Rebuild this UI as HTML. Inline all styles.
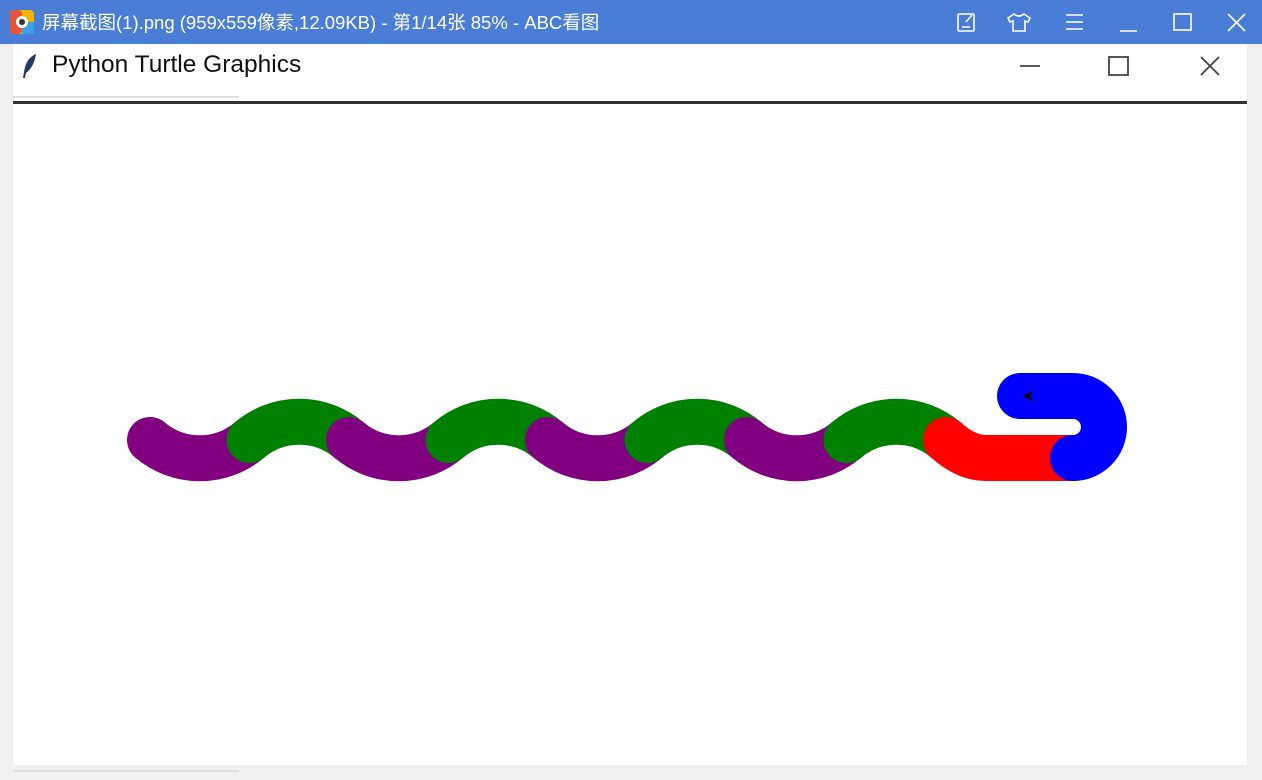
<!DOCTYPE html>
<html><head><meta charset="utf-8">
<style>
html,body{margin:0;padding:0;width:1262px;height:780px;overflow:hidden;background:#f0f0f0;font-family:"Liberation Sans","Noto Sans CJK SC",sans-serif;}
#topbar{position:absolute;left:0;top:0;width:1262px;height:44px;background:#4a7dd5;}
#toptitle{position:absolute;left:42px;top:9px;color:#fff;font-size:18.5px;white-space:nowrap;}
#win{position:absolute;left:13px;top:44px;width:1234px;height:721px;background:#fff;}
#wtitle{position:absolute;left:52px;top:51px;font-size:24.5px;color:#111;white-space:nowrap;}
</style></head><body>
<div id="topbar"></div>
<svg style="position:absolute;left:10px;top:10px" width="24" height="24">
<rect x="0" y="0" width="24" height="24" rx="4" fill="#f4b400"/><rect x="0" y="0" width="12" height="24" rx="4" fill="#e8543a"/><rect x="12" y="12" width="12" height="12" fill="#3aa0e8"/>
<circle cx="12" cy="12" r="6" fill="#fff"/><circle cx="12" cy="12" r="3" fill="#333"/></svg>
<div id="toptitle">屏幕截图(1).png (959x559像素,12.09KB) - 第1/14张 85% - ABC看图</div>
<svg style="position:absolute;left:940px;top:0" width="322" height="44" fill="none" stroke="#fff" stroke-width="1.6">
<g><rect x="18" y="14" width="16" height="17" rx="1"/><path d="M22 27h8M26 22l6-7"/></g>
<g><path d="M74 14l-6 4 2 4 3-1v10h12V21l3 1 2-4-6-4q-5 4-10 0z"/></g>
<g><path d="M126 15h17M126 22h17M126 29h17"/></g>
<g><path d="M180 31h17"/></g>
<g><rect x="234" y="14" width="17" height="16"/></g>
<g><path d="M288 14l17 17M305 14l-17 17"/></g>
</svg>
<div id="win"></div>
<svg style="position:absolute;left:20px;top:52px" width="20" height="28"><path d="M16 2q-10 4-12 18l-1 6 2 0 1-5q8-6 10-19z" fill="#223a6a"/></svg>
<div id="wtitle">Python Turtle Graphics</div>
<svg style="position:absolute;left:1000px;top:48px" width="240" height="36" fill="none" stroke="#444" stroke-width="1.8">
<path d="M20 18h20"/>
<rect x="109" y="9" width="19" height="18"/>
<path d="M201 9l18 18M219 9l-18 18"/>
</svg>
<div style="position:absolute;left:13px;top:96px;width:226px;height:2px;background:#ddd"></div>
<div style="position:absolute;left:13px;top:101px;width:1234px;height:3px;background:#333"></div>
<div style="position:absolute;left:13px;top:770px;width:226px;height:2px;background:#ddd"></div>
<svg id="canvas" style="position:absolute;left:0;top:0" width="1262" height="780"></svg>
<script>
const segColors = ["purple","green","purple","green","purple","green","purple","green"];
const segStartX = 150, segLen = 99.5, waveY = 440, radius = 77, penWidth = 46;
const NS = "http://www.w3.org/2000/svg";
const svg = document.getElementById('canvas');
function add(d, color){
  const p = document.createElementNS(NS,'path');
  p.setAttribute('d', d);
  p.setAttribute('fill','none');
  p.setAttribute('stroke', color);
  p.setAttribute('stroke-width', penWidth);
  p.setAttribute('stroke-linecap','round');
  p.setAttribute('stroke-linejoin','round');
  svg.appendChild(p);
  return p;
}
let x = segStartX;
segColors.forEach((c,i)=>{
  const sweep = c === 'purple' ? 0 : 1;
  const p = add(`M${x},${waveY} A${radius},${radius} 0 0 ${sweep} ${x+segLen},${waveY}`, c);
  
  
  x += segLen;
});
const neck = add(`M${x},${waveY} Q${x+20},${waveY+18} ${x+40},${waveY+18} L1073,458`, 'red');


const head = add(`M1073,458 A31,31 0 0 0 1073,396 L1020,396`, 'blue');


const t = document.createElementNS(NS,'path');
t.setAttribute('d','M1023,396 l11,-6 l-4,6 l4,6 z');
t.setAttribute('fill','#000');


svg.appendChild(t);
</script>
</body></html>
